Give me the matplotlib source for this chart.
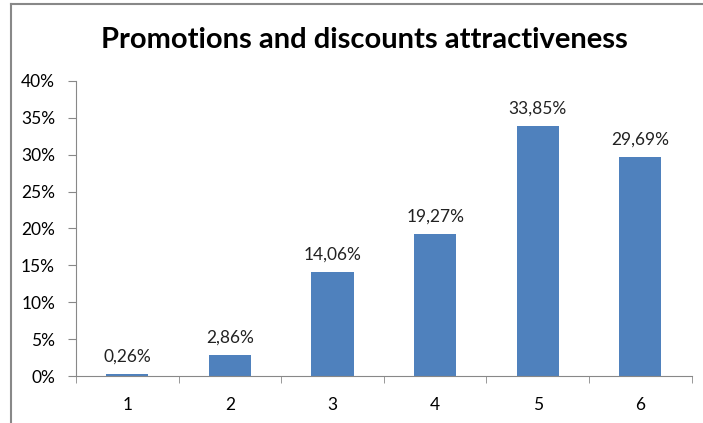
import matplotlib.pyplot as plt
from matplotlib.lines import Line2D
from matplotlib.ticker import FixedLocator, PercentFormatter

categories = [1, 2, 3, 4, 5, 6]
shares = [0.26, 2.86, 14.06, 19.27, 33.85, 29.69]
labels = ["0,26%", "2,86%", "14,06%", "19,27%", "33,85%", "29,69%"]

plt.rcParams['font.family'] = ['Lato', 'DejaVu Sans']

fig = plt.figure(figsize=(7.03, 4.23), dpi=100)
ax = fig.add_axes([0.108, 0.111, 0.876, 0.698])

x = list(range(len(categories)))
bars = ax.bar(x, shares, width=0.41, color='#4F81BD')
for b, lab in zip(bars, labels):
    ax.text(b.get_x() + b.get_width() / 2, b.get_height() + 1.3, lab,
            ha='center', va='bottom', fontsize=12.5, color='#222222')

ax.set_xlim(-0.5, len(categories) - 0.5)
ax.set_ylim(0, 40)
ax.set_yticks(range(0, 41, 5))
ax.yaxis.set_major_formatter(PercentFormatter(decimals=0))
ax.set_xticks(x)
ax.set_xticklabels([str(c) for c in categories])
ax.xaxis.set_minor_locator(FixedLocator([i - 0.5 for i in range(len(categories) + 1)]))
ax.tick_params(axis='x', which='major', length=0, pad=15, labelsize=12.5)
ax.tick_params(axis='x', which='minor', length=5, color='#888888', direction='out')
ax.tick_params(axis='y', length=6, color='#888888', labelsize=12.5, pad=9)

for s in ['top', 'right']:
    ax.spines[s].set_visible(False)
for s in ['left', 'bottom']:
    ax.spines[s].set_color('#888888')

fig.text(0.519, 0.905, "Promotions and discounts attractiveness",
         ha='center', va='center', fontsize=21, fontweight='bold')

# chart frame along top and left edges
fig.add_artist(Line2D([11 / 703, 1], [1 - 4 / 423, 1 - 4 / 423], color='#888888', lw=1.5))
fig.add_artist(Line2D([11 / 703, 11 / 703], [0, 1 - 4 / 423], color='#888888', lw=1.5))

fig.savefig('out.png', dpi=100)
